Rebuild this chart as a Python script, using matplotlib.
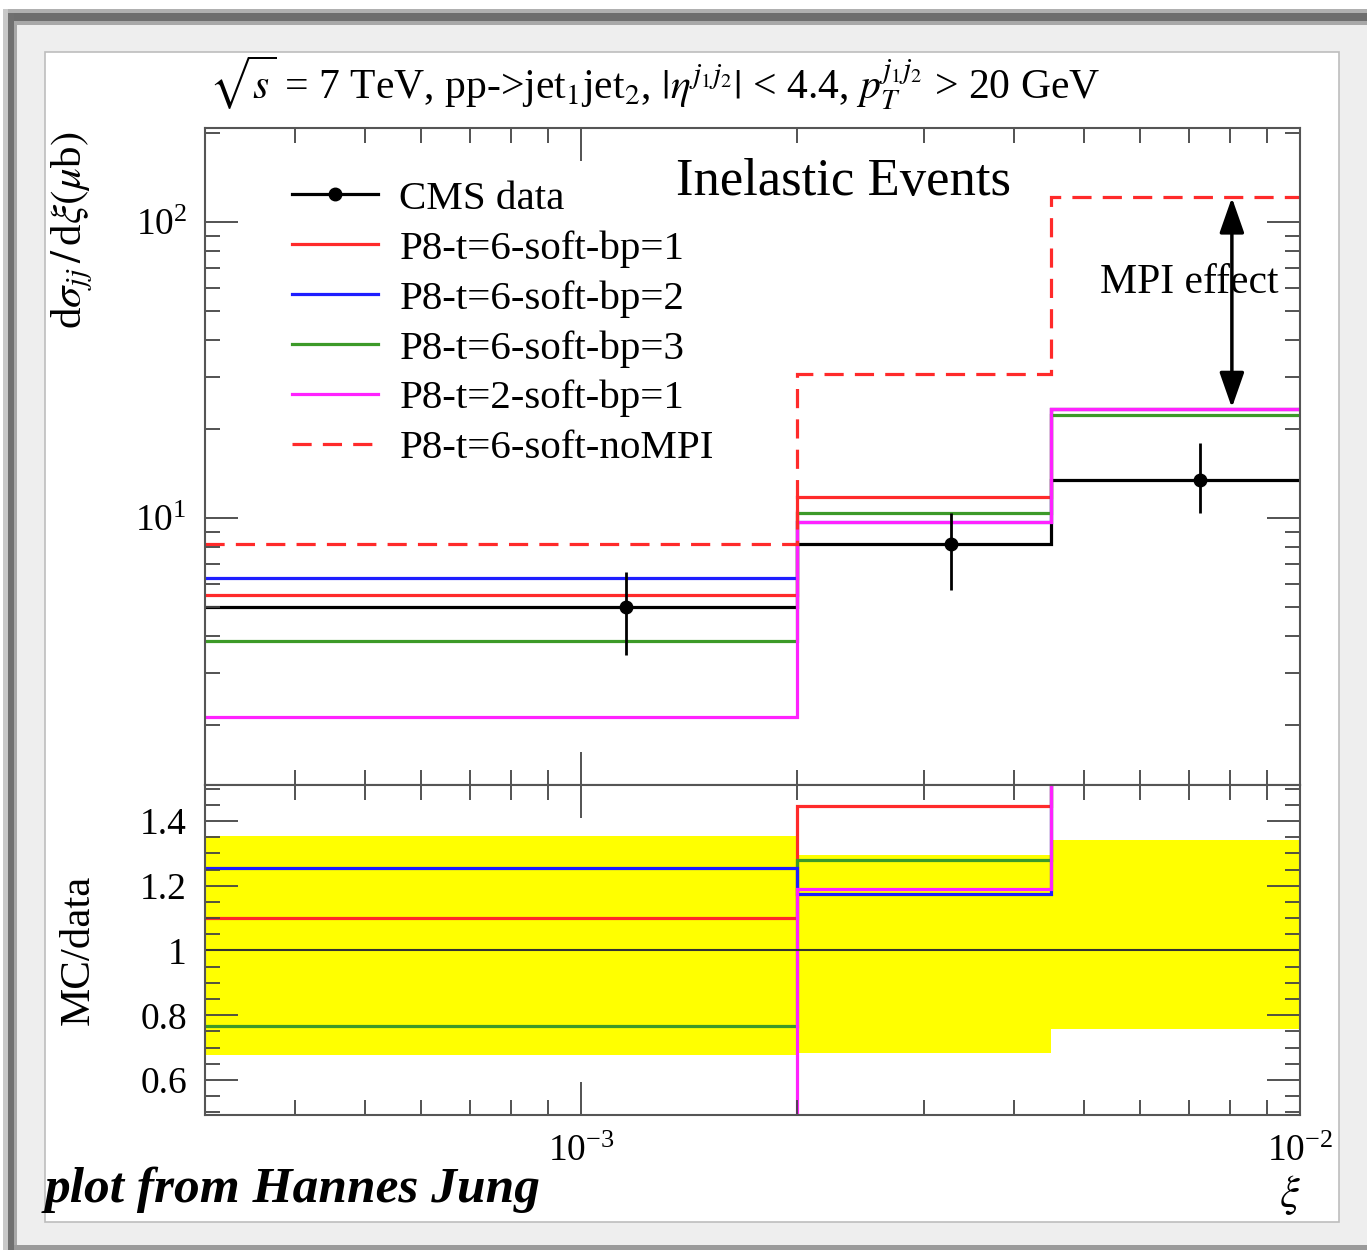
import numpy as np
import matplotlib
matplotlib.use("Agg")
import matplotlib.pyplot as plt
from matplotlib.patches import Rectangle
from matplotlib.lines import Line2D
from matplotlib.ticker import LogLocator, NullFormatter, MultipleLocator, FixedLocator

plt.rcParams['font.family'] = ['Liberation Serif', 'DejaVu Serif']
plt.rcParams['mathtext.fontset'] = 'stix'

# bin edges in xi
xi_edges = [3.0e-4, 2.0e-3, 4.5e-3, 1.0e-2]

# CMS data
cms = [5.0, 8.2, 13.4]
cms_x = [1.155e-3, 3.27e-3, 7.26e-3]
cms_lo = [3.44, 5.71, 10.4]
cms_hi = [6.58, 10.4, 17.9]

# MC predictions
bp1 = [5.5, 11.8, 23.3]
bp2 = [6.27, 9.67, 23.3]
bp3 = [3.84, 10.4, 22.3]
t2bp1 = [2.13, 9.7, 23.4]
nompi = [8.17, 30.6, 122.0]

# ratio panel
band_lo = [0.677, 0.683, 0.757]
band_hi = [1.354, 1.295, 1.342]
r_bp1 = [1.10, 1.445, 1.74]
r_bp2 = [1.255, 1.175, 1.74]
r_bp3 = [0.766, 1.28, 1.66]
r_t2bp1 = [0.43, 1.19, 1.75]

labels = ['CMS data', 'P8-t=6-soft-bp=1', 'P8-t=6-soft-bp=2',
          'P8-t=6-soft-bp=3', 'P8-t=2-soft-bp=1', 'P8-t=6-soft-noMPI']
c_red, c_blue, c_green, c_mag = '#ff2a2a', '#1e1eff', '#3c9a28', '#ff22ff'

W, H = 1367, 1250
fig = plt.figure(figsize=(W / 100, H / 100), dpi=100, facecolor='white')


def fx(x):
    return x / W


def fy(y):
    return 1 - y / H


def rect(x0, y0, x1, y1, **kw):
    fig.add_artist(Rectangle((fx(x0), fy(y1)), fx(x1) - fx(x0), fy(y0) - fy(y1),
                             transform=fig.transFigure, zorder=-10, **kw))


# screenshot frame
rect(3, 9, W, H, facecolor='#eeeeee', edgecolor='none')
rect(3, 9, W, 13, facecolor='#b0b0b0', edgecolor='none')
rect(8, 13, W, 21, facecolor='#6e6e6e', edgecolor='none')
rect(8, 21, W, 25, facecolor='#a8a8a8', edgecolor='none')
rect(3, 9, 8, H, facecolor='#c8c8c8', edgecolor='none')
rect(8, 13, 14, H, facecolor='#707070', edgecolor='none')
rect(14, 21, 17, H, facecolor='#a8a8a8', edgecolor='none')
rect(14, 1245, W, H, facecolor='#9a9a9a', edgecolor='none')
rect(45, 52, 1339, 1222, facecolor='white', edgecolor='#bdbdbd', linewidth=1.2)

ax = fig.add_axes([fx(205), fy(785), fx(1300) - fx(205), fy(128) - fy(785)])
axr = fig.add_axes([fx(205), fy(1115), fx(1300) - fx(205), fy(785) - fy(1115)])

lw = 2.3
ax.stairs(cms, xi_edges, baseline=None, color='black', lw=lw)
ax.stairs(bp1, xi_edges, baseline=None, color=c_red, lw=lw)
ax.stairs(bp2, xi_edges, baseline=None, color=c_blue, lw=lw)
ax.stairs(bp3, xi_edges, baseline=None, color=c_green, lw=lw)
ax.stairs(t2bp1, xi_edges, baseline=None, color=c_mag, lw=lw)
ax.stairs(nompi, xi_edges, baseline=None, color=c_red, lw=lw, linestyle=(0, (6, 3.5)))
yerr = [np.array(cms) - np.array(cms_lo), np.array(cms_hi) - np.array(cms)]
ax.errorbar(cms_x, cms, yerr=yerr, fmt='o', color='black', ms=9, elinewidth=2, capsize=0)

ax.set_xscale('log')
ax.set_yscale('log')
ax.set_xlim(xi_edges[0], xi_edges[-1])
ax.set_ylim(1.253, 208)

ax.annotate('', xy=(8.04e-3, 23.6), xytext=(8.04e-3, 121),
            arrowprops=dict(arrowstyle='<|-|>,head_length=0.8,head_width=0.28',
                            mutation_scale=27, lw=2.5, color='black',
                            shrinkA=0, shrinkB=0))
fig.text(fx(1100), fy(283), 'MPI effect', fontsize=30, va='center', ha='left')
fig.text(fx(676), fy(182), 'Inelastic Events', fontsize=38, va='center', ha='left')

handles = [Line2D([], [], color='black', lw=lw, marker='o', ms=9),
           Line2D([], [], color=c_red, lw=lw),
           Line2D([], [], color=c_blue, lw=lw),
           Line2D([], [], color=c_green, lw=lw),
           Line2D([], [], color=c_mag, lw=lw),
           Line2D([], [], color=c_red, lw=lw, linestyle=(0, (6, 3.5)))]
ax.legend(handles, labels, loc='upper left', bbox_to_anchor=(0.0795, 0.921),
          frameon=False, fontsize=29.5, borderpad=0, borderaxespad=0,
          handlelength=2.1, handletextpad=0.52, labelspacing=0.3)

# ratio panel
axr.stairs(band_hi, xi_edges, baseline=band_lo, fill=True, color='#ffff00', lw=0)
axr.axhline(1.0, color='#333333', lw=1.5)
axr.stairs(r_bp1, xi_edges, baseline=None, color=c_red, lw=lw)
axr.stairs(r_bp3, xi_edges, baseline=None, color=c_green, lw=lw)
axr.stairs(r_bp2, xi_edges, baseline=None, color=c_blue, lw=lw)
axr.stairs(r_t2bp1, xi_edges, baseline=None, color=c_mag, lw=lw)
axr.set_xscale('log')
axr.set_xlim(xi_edges[0], xi_edges[-1])
axr.set_ylim(0.492, 1.511)
axr.yaxis.set_major_locator(FixedLocator([0.6, 0.8, 1.0, 1.2, 1.4]))
axr.yaxis.set_minor_locator(MultipleLocator(0.05))
axr.set_yticklabels(['0.6', '0.8', '1', '1.2', '1.4'])

for a in (ax, axr):
    a.xaxis.set_major_locator(LogLocator(base=10, numticks=10))
    a.xaxis.set_minor_locator(LogLocator(base=10, subs=np.arange(2, 10), numticks=20))
    a.xaxis.set_minor_formatter(NullFormatter())
    a.tick_params(which='both', direction='in', top=True, right=True,
                  color='#444444', width=1.3, labelsize=27, pad=13)
    a.tick_params(which='major', length=24)
    a.tick_params(which='minor', length=11)
    for s in a.spines.values():
        s.set_color('#555555')
        s.set_linewidth(1.5)
ax.yaxis.set_minor_formatter(NullFormatter())
ax.tick_params(labelbottom=False)
axr.tick_params(axis='x', labelsize=27, pad=14)

fig.text(fx(72), fy(230), r'd$\sigma_{jj}\,/\,$d$\xi(\mu$b$)$', rotation=90,
         fontsize=31, ha='center', va='center')
fig.text(fx(78), fy(950), 'MC/data', rotation=90, fontsize=31, ha='center', va='center')
fig.text(fx(1290), fy(1195), r'$\xi$', fontsize=32, ha='center', va='center')
fig.text(fx(655), fy(83),
         r'$\sqrt{s}$ = 7 TeV, pp->jet$_1$jet$_2$, $|\eta^{j_1 j_2}|$ < 4.4, $p_T^{j_1 j_2}$ > 20 GeV',
         fontsize=30, ha='center', va='center')
fig.text(fx(45), fy(1190), 'plot from Hannes Jung', fontsize=37, fontweight='bold',
         fontstyle='italic', ha='left', va='center')

fig.savefig('out.png', dpi=100, facecolor='white')
